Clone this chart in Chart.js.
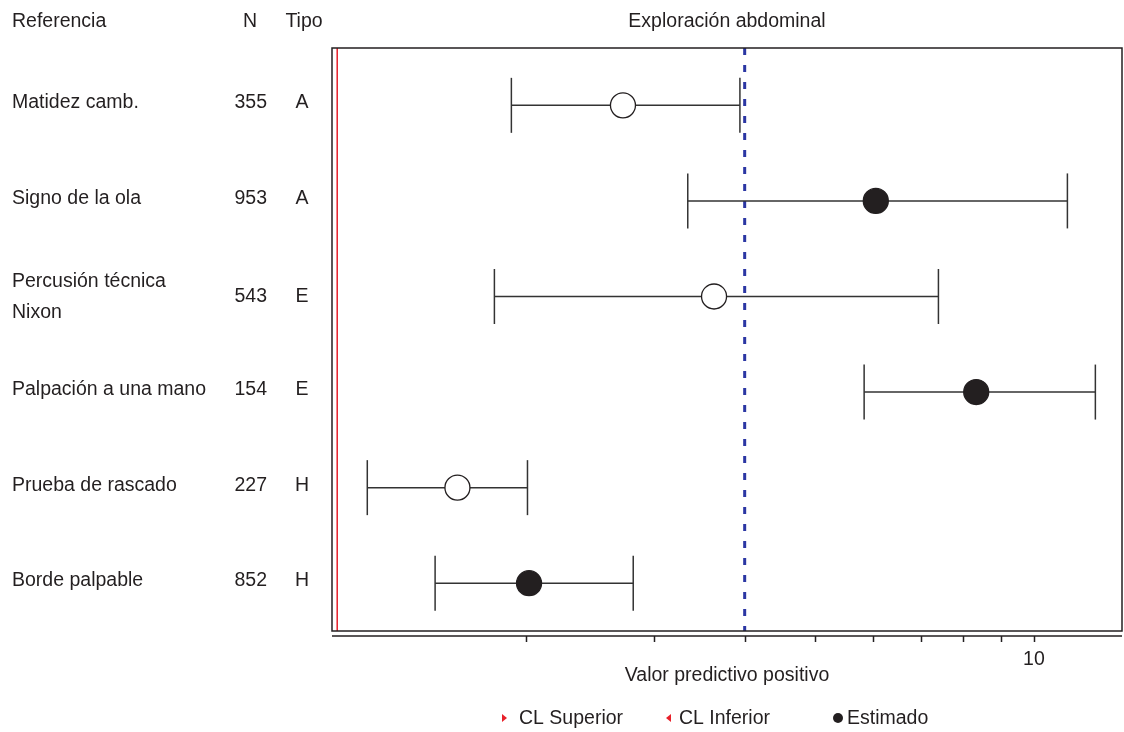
<!DOCTYPE html>
<html>
<head>
<meta charset="utf-8">
<script src="https://cdn.jsdelivr.net/npm/chart.js@4/dist/chart.umd.min.js"></script>
<style>
  html, body { margin: 0; padding: 0; background: #fff; }
  #wrap { width: 1124px; height: 732px; position: relative; }
</style>
</head>
<body>
<div id="wrap"><canvas id="chart"></canvas></div>
<script>
// Rows of the table (top to bottom)
const referencias = ['Matidez camb.', 'Signo de la ola', ['Percusión técnica', 'Nixon'],
    'Palpación a una mano', 'Prueba de rascado', 'Borde palpable'];
const nValues = [355, 953, 543, 154, 227, 852];
const tipos = ['A', 'A', 'E', 'E', 'H', 'H'];

// Valor predictivo positivo
const estimado = [2.72, 6.06, 3.63, 8.33, 1.61, 2.02];
const clInferior = [1.91, 3.34, 1.81, 5.84, 1.21, 1.50];
const clSuperior = [3.94, 11.12, 7.39, 12.15, 2.01, 2.81];
const relleno = [false, true, false, true, false, true];

const xTicks = [2, 3, 4, 5, 6, 7, 8, 9, 10];
const xLabels = ['', '', '', '', '', '', '', '', '10'];
const valorReferencia = 4;
const lineaRoja = 1.1;

const leyenda = ['CL Superior', 'CL Inferior', 'Estimado'];

const xMin = 1.082, xMax = 13.22;
const yMin = 0.40, yMax = 6.50;

const ink = '#231f20';
const red = '#e8202a';
const font = 'Liberation Sans';
const fontStr = '19.5px "' + font + '"';
Chart.defaults.font.family = font;
Chart.defaults.color = ink;

const rowY = referencias.map((_, i) => i + 1);

const intervalos = rowY.map((y, i) => ({
    label: 'ic' + i,
    data: [{ x: clInferior[i], y }, { x: clSuperior[i], y }],
    showLine: true,
    borderColor: '#333',
    borderWidth: 1.5,
    pointRadius: 0
}));

// table, plot box, offset x axis and legend
const extras = {
    id: 'extras',
    afterDraw(chart) {
        const { ctx, chartArea: a, scales } = chart;
        const x = scales.x, y = scales.y;
        ctx.save();
        ctx.strokeStyle = ink;
        ctx.lineWidth = 1.5;
        ctx.strokeRect(a.left, a.top, a.right - a.left, a.bottom - a.top);

        const axY = a.bottom + 5;
        ctx.beginPath();
        ctx.moveTo(a.left, axY);
        ctx.lineTo(a.right, axY);
        xTicks.forEach(t => {
            const px = Math.round(x.getPixelForValue(t)) + 0.5;
            ctx.moveTo(px, axY);
            ctx.lineTo(px, axY + 6);
        });
        ctx.stroke();

        ctx.fillStyle = ink;
        ctx.font = fontStr;
        ctx.textBaseline = 'middle';
        ctx.textAlign = 'center';
        xTicks.forEach((t, i) => {
            if (xLabels[i]) ctx.fillText(xLabels[i], x.getPixelForValue(t), 660);
        });

        ctx.textAlign = 'left';
        ctx.fillText('Referencia', 12, 22);
        ctx.textAlign = 'center';
        ctx.fillText('N', 250, 22);
        ctx.fillText('Tipo', 304, 22);

        referencias.forEach((r, i) => {
            const by = y.getPixelForValue(rowY[i]);
            let py = by - 2.5;
            ctx.textAlign = 'left';
            if (Array.isArray(r)) {
                ctx.fillText(r[0], 12, by - 15);
                ctx.fillText(r[1], 12, by + 16);
                py = by;
            } else {
                ctx.fillText(r, 12, py);
            }
            ctx.textAlign = 'right';
            ctx.fillText(String(nValues[i]), 267, py);
            ctx.textAlign = 'center';
            ctx.fillText(tipos[i], 302, py);
        });

        // legend
        const ly = 718;
        ctx.textAlign = 'left';
        ctx.fillStyle = red;
        ctx.beginPath();
        ctx.moveTo(502, ly - 4); ctx.lineTo(507, ly); ctx.lineTo(502, ly + 4); ctx.closePath();
        ctx.fill();
        ctx.beginPath();
        ctx.moveTo(671, ly - 4); ctx.lineTo(666, ly); ctx.lineTo(671, ly + 4); ctx.closePath();
        ctx.fill();
        ctx.fillStyle = ink;
        ctx.beginPath();
        ctx.arc(838, ly, 5, 0, Math.PI * 2);
        ctx.fill();
        ctx.fillText(leyenda[0], 519, ly + 1);
        ctx.fillText(leyenda[1], 679, ly + 1);
        ctx.fillText(leyenda[2], 847, ly + 1);
        ctx.restore();
    }
};

new Chart(document.getElementById('chart'), {
    type: 'scatter',
    data: {
        datasets: [
            {
                label: 'Estimado',
                data: rowY.map((y, i) => ({ x: estimado[i], y })),
                pointRadius: 12.5,
                pointBackgroundColor: relleno.map(f => f ? ink : '#fff'),
                pointBorderColor: ink,
                pointBorderWidth: 1.3
            },
            {
                label: 'CL Superior',
                data: rowY.map((y, i) => ({ x: clSuperior[i], y })),
                pointStyle: 'line',
                rotation: 90,
                pointRadius: 27.5,
                pointBorderColor: '#333',
                pointBorderWidth: 1.5
            },
            {
                label: 'CL Inferior',
                data: rowY.map((y, i) => ({ x: clInferior[i], y })),
                pointStyle: 'line',
                rotation: 90,
                pointRadius: 27.5,
                pointBorderColor: '#333',
                pointBorderWidth: 1.5
            },
            ...intervalos,
            {
                label: 'ref',
                data: [{ x: valorReferencia, y: yMin }, { x: valorReferencia, y: yMax }],
                showLine: true,
                borderColor: '#2b36a3',
                borderWidth: 3,
                borderDash: [7, 10],
                pointRadius: 0
            },
            {
                label: 'roja',
                data: [{ x: lineaRoja, y: yMin }, { x: lineaRoja, y: yMax }],
                showLine: true,
                borderColor: red,
                borderWidth: 1.5,
                pointRadius: 0
            }
        ]
    },
    options: {
        responsive: true,
        maintainAspectRatio: false,
        animation: false,
        events: [],
        layout: { autoPadding: false, padding: { left: 332, right: 2, top: 0, bottom: 46.25 } },
        scales: {
            x: {
                type: 'logarithmic',
                min: xMin,
                max: xMax,
                grid: { display: false, drawTicks: false },
                border: { display: false },
                ticks: { display: false },
                title: {
                    display: true,
                    text: 'Valor predictivo positivo',
                    font: { size: 19.5, lineHeight: 1 },
                    padding: { top: 35.25, bottom: 0 }
                }
            },
            y: {
                type: 'linear',
                min: yMin,
                max: yMax,
                reverse: true,
                display: false
            }
        },
        plugins: {
            title: {
                display: true,
                text: 'Exploración abdominal',
                color: ink,
                font: { size: 19.5, weight: 'normal', lineHeight: 1 },
                padding: { top: 12, bottom: 16.5 }
            },
            tooltip: { enabled: false },
            legend: { display: false }
        }
    },
    plugins: [extras]
});
</script>
</body>
</html>
